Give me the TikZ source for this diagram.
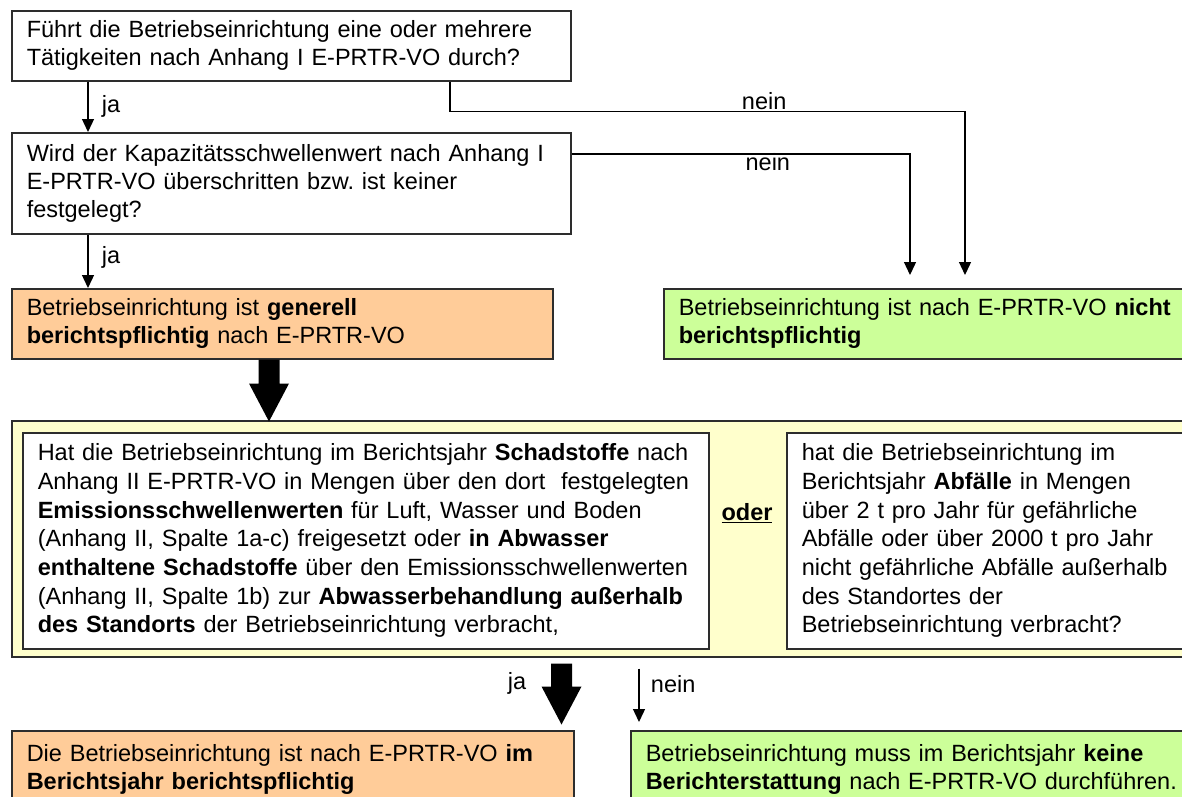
\documentclass[tikz,border=0pt]{standalone}
\usepackage{fontspec}
\setmainfont{Liberation Sans}
\usepackage{xcolor}
\usetikzlibrary{positioning,arrows.meta}
\frenchspacing

\definecolor{orangefill}{RGB}{255,204,153}
\definecolor{gruenfill}{RGB}{204,255,153}
\definecolor{gelbfill}{RGB}{255,255,204}
\definecolor{rand}{RGB}{45,45,45}

\begin{document}
\begin{tikzpicture}[x=1pt,y=1pt]
\tikzstyle{every node}+=[font=\fontsize{23.5}{28}\selectfont]
\tikzstyle{kasten}=[draw=rand, line width=1.5pt, anchor=north west, align=left, inner xsep=15pt, inner ysep=0pt]
\tikzstyle{eng}=[font=\fontsize{23.5}{28.7}\selectfont]
\tikzstyle{pfeil}=[draw=black, line width=1.3pt, -{Triangle[length=13pt,width=12pt]}]
\useasboundingbox (0,0) rectangle (1182,-796);
\clip (0,0) rectangle (1182,-796);
% Fragen oben
\node [kasten, fill=white, text width=529pt, minimum height=70pt] (frage1) at (11,-10)
  {Führt die Betriebseinrichtung eine oder mehrere\\Tätigkeiten nach Anhang I E-PRTR-VO durch?};
\node [kasten, fill=white, text width=529pt, minimum height=101pt] (frage2) at (11,-132)
  {Wird der Kapazitätsschwellenwert nach Anhang I\\E-PRTR-VO überschritten bzw. ist keiner\\festgelegt?};
\node [kasten, fill=orangefill, text width=511pt, minimum height=70pt] (generell) at (11,-288)
  {Betriebseinrichtung ist \textbf{generell}\\\textbf{berichtspflichtig} nach E-PRTR-VO};
\node [kasten, fill=gruenfill, text width=560pt, minimum height=70pt] (nicht) at (663,-288)
  {Betriebseinrichtung ist nach E-PRTR-VO \textbf{nicht}\\\textbf{berichtspflichtig}};
% gelber Rahmen
\node [kasten, fill=gelbfill, minimum width=1240pt, minimum height=236pt] (rahmen) at (11,-420) {};
\node [kasten, eng, fill=white, text width=656pt, minimum height=216pt] (schadstoffe) at (22,-432)
  {Hat die Betriebseinrichtung im Berichtsjahr \textbf{Schadstoffe} nach\\
   Anhang II E-PRTR-VO in Mengen über den dort~ festgelegten\\
   \textbf{Emissionsschwellenwerten} für Luft, Wasser und Boden\\
   (Anhang II, Spalte 1a-c) freigesetzt oder \textbf{in Abwasser}\\
   \textbf{enthaltene Schadstoffe} über den Emissionsschwellenwerten\\
   (Anhang II, Spalte 1b) zur \textbf{Abwasserbehandlung außerhalb}\\
   \textbf{des Standorts} der Betriebseinrichtung verbracht,};
\node (oder) at (747,-513) {\underline{\textbf{oder}}};
\node [kasten, eng, fill=white, text width=440pt, minimum height=216pt] (abfaelle) at (786,-432)
  {hat die Betriebseinrichtung im\\
   Berichtsjahr \textbf{Abfälle} in Mengen\\
   über 2 t pro Jahr für gefährliche\\
   Abfälle oder über 2000 t pro Jahr\\
   nicht gefährliche Abfälle außerhalb\\
   des Standortes der\\
   Betriebseinrichtung verbracht?};
% Ergebnisse unten
\node [kasten, fill=orangefill, text width=532pt, minimum height=78pt] (imjahr) at (11,-730)
  {Die Betriebseinrichtung ist nach E-PRTR-VO \textbf{im}\\\textbf{Berichtsjahr berichtspflichtig}};
\node [kasten, fill=gruenfill, text width=580pt, minimum height=78pt] (keine) at (630,-730)
  {Betriebseinrichtung muss im Berichtsjahr \textbf{keine}\\\textbf{Berichterstattung} nach E-PRTR-VO durchführen.};
% Verbindungen
\draw [pfeil] ([xshift=77pt]frage1.south west) -- ([xshift=77pt]frage2.north west)
  node [midway, right=10pt] (ja1) {ja};
\draw [pfeil] ([xshift=77pt]frage2.south west) -- ([xshift=77pt]generell.north west)
  node [midway, right=10pt, yshift=4pt] (ja2) {ja};
\draw [pfeil] ([xshift=439pt]frage1.south west) -- ++(0,-30) -| ([xshift=302pt,yshift=13pt]nicht.north west)
  node [pos=0.305, above=-2pt] (nein1) {nein};
\draw [pfeil] ([yshift=-22pt]frage2.north east) -| ([xshift=247pt,yshift=13pt]nicht.north west)
  node [pos=0.29, below=-5pt] (nein2) {nein};
\fill [black] ([xshift=247.5pt]generell.south west) -- ++(0,-24) -- ++(-9.5,0) -- ++(20,-38)
  -- ++(20,38) -- ++(-9.5,0) -- ++(0,24) -- cycle;
\fill [black] ([xshift=540pt,yshift=-6pt]rahmen.south west) -- ++(0,-23) -- ++(-9.5,0) -- ++(20,-38)
  -- ++(20,38) -- ++(-9.5,0) -- ++(0,23) -- cycle;
\node (ja3) at (517,-683) {ja};
\draw [pfeil] ([xshift=628pt,yshift=-11pt]rahmen.south west) -- ([xshift=9pt,yshift=8pt]keine.north west)
  node [pos=0.3, right=8pt] (nein3) {nein};
\end{tikzpicture}
\end{document}
